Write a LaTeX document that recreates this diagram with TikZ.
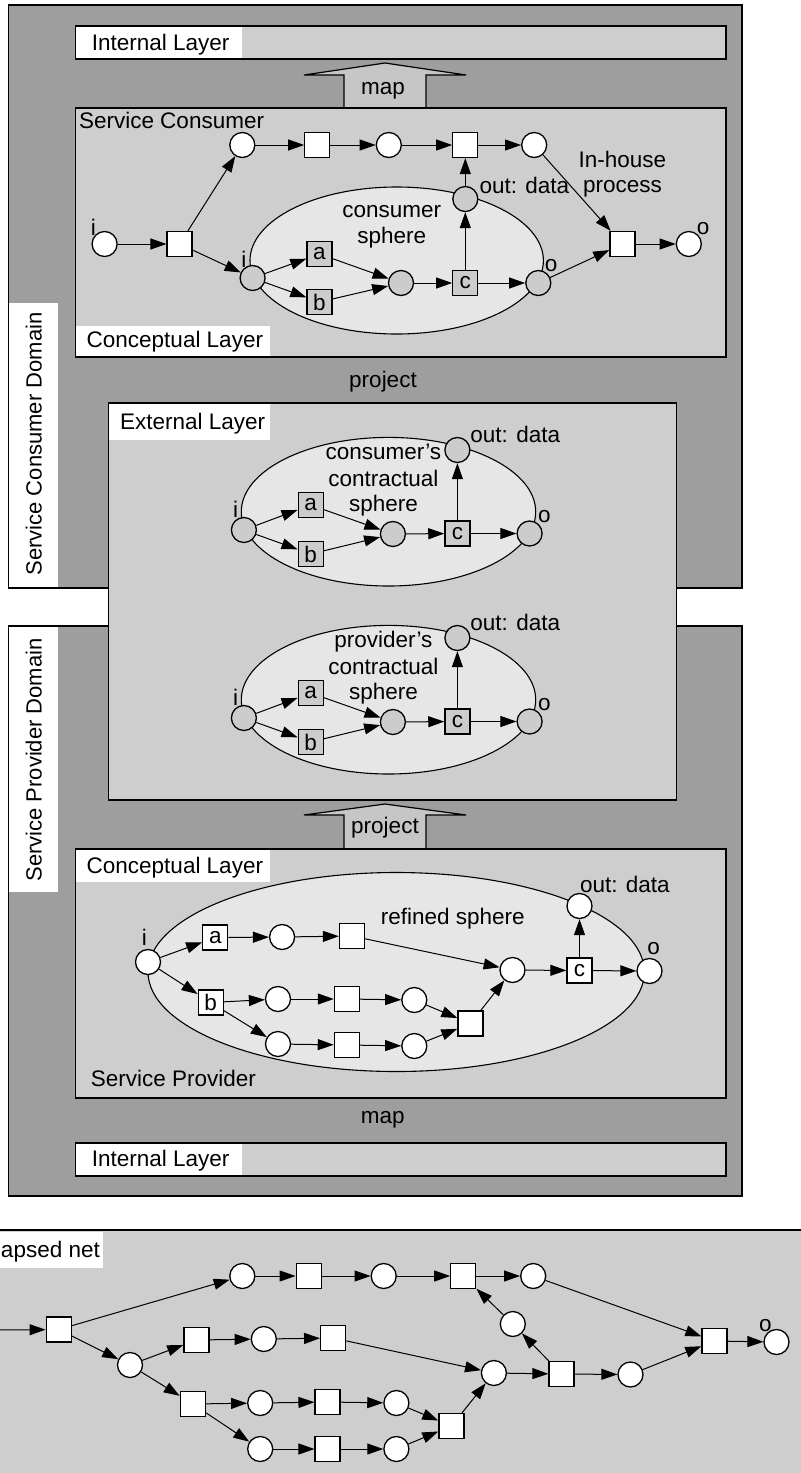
\documentclass[tikz,border=0pt]{standalone}
\usepackage{fontspec}
\setmainfont{Liberation Sans}
\usetikzlibrary{arrows.meta}

\definecolor{domainbg}{RGB}{158,158,158}
\definecolor{layerbg}{RGB}{206,206,206}
\definecolor{spherebg}{RGB}{230,230,230}
\definecolor{gnode}{RGB}{204,204,204}
\definecolor{arrowbg}{RGB}{198,198,198}

\tikzset{
  lbl/.style={font=\fontsize{11.25}{13}\selectfont, inner sep=0pt, outer sep=0pt},
  place/.style={circle, draw, line width=0.65pt, fill=white, minimum size=12.5pt, inner sep=0pt},
  gplace/.style={place, fill=gnode},
  trans/.style={rectangle, draw, line width=0.65pt, fill=white, minimum size=12.5pt, inner sep=0pt,
                font=\fontsize{11.25}{13}\selectfont},
  gtrans/.style={trans, fill=gnode},
  arc/.style={-{Triangle[length=8pt,width=5.5pt]}, line width=0.5pt},
  layerbox/.style={draw, line width=0.7pt, fill=layerbg},
  domainbox/.style={draw, line width=0.75pt},
  tag/.style={fill=white},
  sphere/.style={draw, line width=0.55pt, fill=spherebg},
  blockarrow/.style={draw, line width=0.6pt, fill=arrowbg, line join=miter},
}

\begin{document}
\begin{tikzpicture}[x=0.5pt, y=-0.5pt]
\useasboundingbox (0,0) rectangle (801,1473);

% ---------- domains ----------
\fill[domainbg] (8.5,5) rectangle (742,588);
\fill[domainbg] (8.5,626) rectangle (742,1196);
\fill[white] (8.5,303) rectangle (58,588);
\fill[white] (8.5,626) rectangle (58,892);
\draw[domainbox] (8.5,5) rectangle (742,588);
\draw[domainbox] (8.5,626) rectangle (742,1196);
\node[lbl, rotate=90, anchor=base, font=\fontsize{11}{13}\selectfont] (consdom) at (41.5,444) {Service Consumer Domain};
\node[lbl, rotate=90, anchor=base, font=\fontsize{11}{13}\selectfont] (provdom) at (41.5,760) {Service Provider Domain};

% ---------- block arrows between layers ----------
\filldraw[blockarrow] (344,108) -- (344,75) -- (304,75) -- (385,63) -- (466,75) -- (426,75) -- (426,108);
\node[lbl, anchor=base] (mapup) at (383,94) {map};
\filldraw[blockarrow] (344,849) -- (344,815) -- (304,815) -- (385,804) -- (466,815) -- (426,815) -- (426,849);
\node[lbl, anchor=base] (projup) at (385,833) {project};

% ---------- consumer internal layer ----------
\fill[layerbg] (75.5,26) rectangle (726,59);
\fill[tag] (75.5,26) rectangle (242.3,59);
\draw[line width=0.7pt] (75.5,26) rectangle (726,59);
\node[lbl, anchor=base west] (intc) at (91.8,50) {Internal Layer};

% ---------- consumer conceptual layer ----------
\fill[layerbg] (75.5,108) rectangle (726,357);
\fill[tag] (75.5,326) rectangle (270.4,357);
\draw[line width=0.7pt] (75.5,108) rectangle (726,357);
\node[lbl, anchor=base west] (svcc) at (79,128) {Service Consumer};
\node[lbl, anchor=base west] (concc) at (86.7,347) {Conceptual Layer};
\node[lbl, anchor=base] (projc) at (383,387) {project};

\draw[sphere] (396.7,260.5) ellipse [x radius=73.35pt, y radius=36.75pt];
\node[lbl, anchor=base] (csph1) at (391.8,217) {consumer};
\node[lbl, anchor=base] (csph2) at (391.8,243) {sphere};
\node[lbl, anchor=base] (inh1) at (622.4,167) {In-house};
\node[lbl, anchor=base] (inh2) at (622.4,192) {process};

\node[place]  (cpi) at (104.6,244) {};
\node[trans]  (ct1) at (179.6,244) {};
\node[place]  (cp1) at (242.3,145) {};
\node[trans]  (ct2) at (317.3,145) {};
\node[place]  (cp2) at (388.8,145) {};
\node[trans]  (ct3) at (465.3,145) {};
\node[place]  (cp3) at (534.2,145) {};
\node[gplace] (cout) at (465.3,199) {};
\node[gplace] (cgi) at (252.6,278) {};
\node[gtrans] (ca) at (319.5,254) {a};
\node[gtrans] (cb) at (319.5,302) {b};
\node[gplace] (cm) at (401,283) {};
\node[gtrans] (cc) at (465.3,283) {c};
\node[gplace] (cgo) at (538.3,283) {};
\node[trans]  (ct4) at (622.4,244) {};
\node[place]  (cpo) at (688.8,244) {};

\node[lbl, anchor=base] (lci) at (93.4,235) {i};
\node[lbl, anchor=base] (lcgi) at (243.9,267) {i};
\node[lbl, anchor=base] (lcgo) at (551,271) {o};
\node[lbl, anchor=base] (lcpo) at (703,234) {o};
\node[lbl, anchor=base west] (lcout) at (479.6,193) {out: data};

\draw[arc] (cpi) -- (ct1);
\draw[arc] (ct1) -- (cp1);
\draw[arc] (ct1) -- (cgi);
\draw[arc] (cp1) -- (ct2);
\draw[arc] (ct2) -- (cp2);
\draw[arc] (cp2) -- (ct3);
\draw[arc] (ct3) -- (cp3);
\draw[arc] (cp3) -- (ct4);
\draw[arc] (cgi) -- (ca);
\draw[arc] (cgi) -- (cb);
\draw[arc] (ca) -- (cm);
\draw[arc] (cb) -- (cm);
\draw[arc] (cm) -- (cc);
\draw[arc] (cc) -- (cgo);
\draw[arc] (cc) -- (cout);
\draw[arc] (cout) -- (ct3);
\draw[arc] (cgo) -- (ct4);
\draw[arc] (ct4) -- (cpo);

% ---------- external layer ----------
\fill[layerbg] (108.7,403) rectangle (676.5,800);
\fill[tag] (108.7,403) rectangle (270.4,440);
\draw[line width=0.7pt] (108.7,403) rectangle (676.5,800);
\node[lbl, anchor=base west] (extl) at (120,429) {External Layer};

\foreach \dy/\who/\sfx in {0/consumer’s/c, 188/provider’s/p} {
  \begin{scope}[yshift=-\dy*0.5pt]
    \draw[sphere] (388.5,511.7) ellipse [x radius=73.6pt, y radius=37.15pt];
    \node[lbl, anchor=base] (t1\sfx) at (383.4,459) {\who};
    \node[lbl, anchor=base] (t2\sfx) at (383.4,486) {contractual};
    \node[lbl, anchor=base] (t3\sfx) at (383.4,511) {sphere};
    \node[gplace] (ei\sfx) at (243.9,530) {};
    \node[gtrans] (ea\sfx) at (310.7,505) {a};
    \node[gtrans] (eb\sfx) at (310.7,554) {b};
    \node[gplace] (em\sfx) at (392.9,534) {};
    \node[gtrans] (ec\sfx) at (457.4,533.5) {c};
    \node[gplace] (eo\sfx) at (529.6,533.5) {};
    \node[gplace] (eout\sfx) at (457.4,450) {};
    \node[lbl, anchor=base] (li\sfx) at (235.7,517.5) {i};
    \node[lbl, anchor=base] (lo\sfx) at (544.4,522.5) {o};
    \node[lbl, anchor=base west] (lout\sfx) at (470.4,442) {out: data};
    \draw[arc] (ei\sfx) -- (ea\sfx);
    \draw[arc] (ei\sfx) -- (eb\sfx);
    \draw[arc] (ea\sfx) -- (em\sfx);
    \draw[arc] (eb\sfx) -- (em\sfx);
    \draw[arc] (em\sfx) -- (ec\sfx);
    \draw[arc] (ec\sfx) -- (eo\sfx);
    \draw[arc] (ec\sfx) -- (eout\sfx);
  \end{scope}
}

% ---------- provider conceptual layer ----------
\fill[layerbg] (75.5,849) rectangle (726,1098);
\fill[tag] (75.5,849) rectangle (270.4,882);
\draw[line width=0.7pt] (75.5,849) rectangle (726,1098);
\node[lbl, anchor=base west] (concp) at (86.7,873) {Conceptual Layer};
\node[lbl, anchor=base west] (svcp) at (90.8,1086) {Service Provider};

\draw[sphere] (396.2,972) ellipse [x radius=124.1pt, y radius=49.75pt];
\node[lbl, anchor=base] (rsph) at (452.8,924) {refined sphere};

\node[place] (ri) at (148,962) {};
\node[trans] (ra) at (215.3,937.5) {a};
\node[place] (rp1) at (282.1,937) {};
\node[trans] (rt1) at (352,936) {};
\node[trans] (rb) at (210.7,1002.5) {b};
\node[place] (rp2) at (278,999) {};
\node[trans] (rt2) at (346.9,999) {};
\node[place] (rp3) at (414.3,1000) {};
\node[place] (rp4) at (278,1044) {};
\node[trans] (rt4) at (346.9,1045) {};
\node[place] (rp5) at (414.3,1046) {};
\node[trans] (rj) at (470.5,1023.5) {};
\node[place] (rm) at (512.5,970) {};
\node[trans] (rc) at (579.5,970.5) {c};
\node[place] (rout) at (579.5,906) {};
\node[place] (ro) at (649.5,971) {};

\node[lbl, anchor=base] (lri) at (144.4,945) {i};
\node[lbl, anchor=base] (lro) at (653.5,954) {o};
\node[lbl, anchor=base west] (lrout) at (580,892) {out: data};

\draw[arc] (ri) -- (ra);
\draw[arc] (ri) -- (rb);
\draw[arc] (ra) -- (rp1);
\draw[arc] (rp1) -- (rt1);
\draw[arc] (rt1) -- (rm);
\draw[arc] (rb) -- (rp2);
\draw[arc] (rp2) -- (rt2);
\draw[arc] (rt2) -- (rp3);
\draw[arc] (rp3) -- (rj);
\draw[arc] (rb) -- (rp4);
\draw[arc] (rp4) -- (rt4);
\draw[arc] (rt4) -- (rp5);
\draw[arc] (rp5) -- (rj);
\draw[arc] (rj) -- (rm);
\draw[arc] (rm) -- (rc);
\draw[arc] (rc) -- (ro);
\draw[arc] (rc) -- (rout);

\node[lbl, anchor=base] (mapp) at (382.7,1123) {map};

% ---------- provider internal layer ----------
\fill[layerbg] (75.5,1143) rectangle (726,1176);
\fill[tag] (75.5,1143) rectangle (242.3,1176);
\draw[line width=0.7pt] (75.5,1143) rectangle (726,1176);
\node[lbl, anchor=base west] (intp) at (91.8,1166) {Internal Layer};

% ---------- collapsed net ----------
\fill[layerbg] (-5,1230) rectangle (810,1480);
\draw[line width=0.7pt] (-5,1230) -- (810,1230);
\fill[tag] (-5,1231.5) rectangle (103,1268);
\node[lbl, anchor=base west] (colt) at (1,1257) {apsed net};

\coordinate (bin) at (-2,1330);
\node[trans] (bt1) at (58.7,1329.5) {};
\node[place] (bp1) at (242.3,1276) {};
\node[trans] (bt2) at (308.7,1276) {};
\node[place] (bp2) at (383.7,1276) {};
\node[trans] (bt3) at (463.3,1276) {};
\node[place] (bp3) at (533.2,1276) {};
\node[place] (bpu) at (512.8,1324) {};
\node[trans] (bt5) at (561.5,1374) {};
\node[place] (bp5) at (630.5,1374.5) {};
\node[trans] (bt6) at (714.5,1341) {};
\node[place] (bpo) at (776.5,1342) {};
\node[place] (bps) at (130,1365) {};
\node[trans] (bt7) at (196.4,1340) {};
\node[place] (bp7) at (263.8,1339) {};
\node[trans] (bt8) at (333.2,1338) {};
\node[place] (bpj) at (493.9,1373) {};
\node[trans] (bt9) at (192.9,1404) {};
\node[place] (bp9) at (260.2,1403) {};
\node[trans] (bt10) at (327.6,1402) {};
\node[place] (bp10) at (396.4,1403) {};
\node[trans] (btj) at (451.5,1426) {};
\node[place] (bp11) at (260.2,1449) {};
\node[trans] (bt11) at (327.6,1449) {};
\node[place] (bp12) at (396.4,1449) {};
\node[lbl, anchor=base] (lbo) at (765.3,1331) {o};

\draw[arc] (bin) -- (bt1);
\draw[arc] (bt1) -- (bp1);
\draw[arc] (bt1) -- (bps);
\draw[arc] (bp1) -- (bt2);
\draw[arc] (bt2) -- (bp2);
\draw[arc] (bp2) -- (bt3);
\draw[arc] (bt3) -- (bp3);
\draw[arc] (bp3) -- (bt6);
\draw[arc] (bps) -- (bt7);
\draw[arc] (bps) -- (bt9);
\draw[arc] (bt7) -- (bp7);
\draw[arc] (bp7) -- (bt8);
\draw[arc] (bt8) -- (bpj);
\draw[arc] (bt9) -- (bp9);
\draw[arc] (bp9) -- (bt10);
\draw[arc] (bt10) -- (bp10);
\draw[arc] (bp10) -- (btj);
\draw[arc] (bt9) -- (bp11);
\draw[arc] (bp11) -- (bt11);
\draw[arc] (bt11) -- (bp12);
\draw[arc] (bp12) -- (btj);
\draw[arc] (btj) -- (bpj);
\draw[arc] (bpj) -- (bt5);
\draw[arc] (bt5) -- (bpu);
\draw[arc] (bpu) -- (bt3);
\draw[arc] (bt5) -- (bp5);
\draw[arc] (bp5) -- (bt6);
\draw[arc] (bt6) -- (bpo);

\end{tikzpicture}
\end{document}
